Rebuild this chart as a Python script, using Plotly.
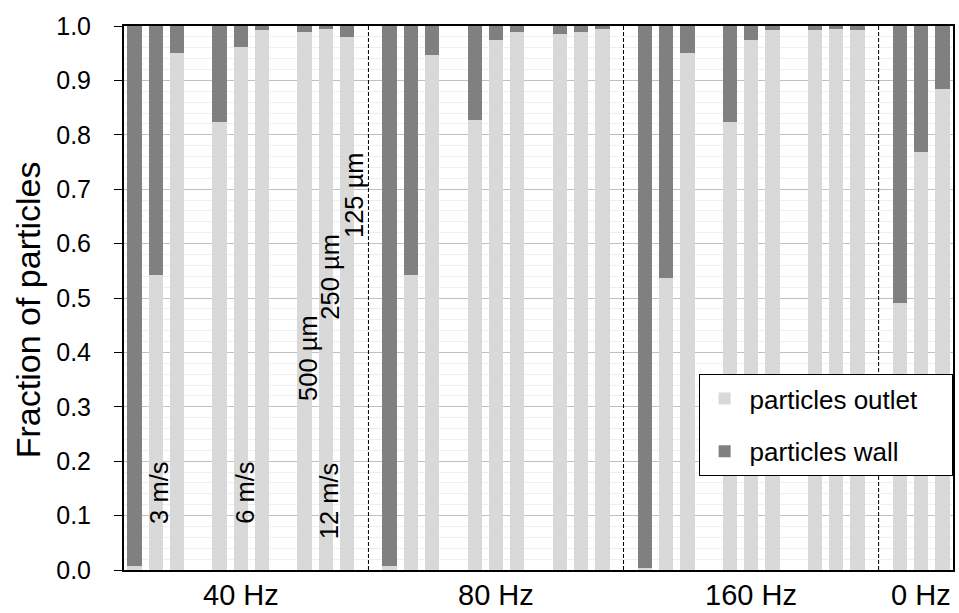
import plotly.graph_objects as go

# ---------------- data ----------------
freqs = ["40 Hz", "80 Hz", "160 Hz", "0 Hz"]
velocities = ["3 m/s", "6 m/s", "12 m/s"]
sizes = ["500 µm", "250 µm", "125 µm"]
series_names = ["particles outlet", "particles wall"]

# fraction of particles reaching the outlet (per freq: velocity-major, size-minor)
outlet_40 = [0.008, 0.542, 0.950, 0.824, 0.962, 0.993, 0.989, 0.995, 0.980]
outlet_80 = [0.007, 0.542, 0.947, 0.827, 0.974, 0.989, 0.986, 0.989, 0.994]
outlet_160 = [0.004, 0.536, 0.950, 0.824, 0.974, 0.992, 0.992, 0.995, 0.992]
outlet_0 = [0.490, 0.769, 0.885]
outlet_by_freq = {"40 Hz": outlet_40, "80 Hz": outlet_80, "160 Hz": outlet_160, "0 Hz": outlet_0}

# ---------------- build category slots ----------------
cats, outlet, wall = [], [], []
dividers = []
group_members = {f: [] for f in freqs}
gap_n = 0
for fi, f in enumerate(freqs):
    vals = outlet_by_freq[f]
    if f == "0 Hz":
        for si, s in enumerate(sizes):
            name = f"{f} | {s}"
            group_members[f].append(len(cats))
            cats.append(name)
            outlet.append(vals[si])
            wall.append(round(1 - vals[si], 4))
        continue
    for vi, v in enumerate(velocities):
        for si, s in enumerate(sizes):
            name = f"{f} | {v} | {s}"
            group_members[f].append(len(cats))
            cats.append(name)
            val = vals[vi * 3 + si]
            outlet.append(val)
            wall.append(round(1 - val, 4))
        gap_n += 1
        gname = "gap" + str(gap_n)
        if vi == len(velocities) - 1:
            dividers.append(len(cats))
        cats.append(gname)
        outlet.append(None)
        wall.append(None)

LIGHT = "#d9d9d9"
DARK = "#808080"
FONT = "Liberation Sans, Arial, sans-serif"
PAD = "\u00a0" * 4  # right padding inside the legend box

fig = go.Figure()
fig.add_trace(go.Bar(x=cats, y=outlet, name=series_names[0] + PAD, marker_color=LIGHT,
                     marker_line_width=0, legendgroup="a"))
fig.add_trace(go.Bar(x=cats, y=wall, name=series_names[1] + PAD, marker_color=DARK,
                     marker_line_width=0, legendgroup="b"))

shapes = []
for d in dividers:
    shapes.append(dict(type="line", xref="x", yref="y", x0=d, x1=d, y0=0, y1=1,
                       line=dict(color="black", width=1, dash="4px,2px")))

H = 613
PT, PB = 26, 570  # plot top / bottom in px


def ypaper(px):
    return (PB - px) / (PB - PT)


annotations = []
for f in freqs:
    idx = group_members[f]
    cx = sum(idx) / len(idx)
    annotations.append(dict(x=cx, y=ypaper(612.5), xref="x", yref="paper", text=f,
                            showarrow=False, font=dict(size=29, color="black", family=FONT),
                            xanchor="center", yanchor="bottom"))

# y-axis title
annotations.append(dict(x=-(124 - 28) / 831, y=ypaper(310), xref="paper", yref="paper",
                        text="Fraction of particles", textangle=-90, showarrow=False,
                        font=dict(size=34, color="black", family=FONT),
                        xanchor="center", yanchor="middle"))

# rotated data labels inside the 40 Hz group
lbl = [
    ("3 m/s", 1.14, 0.1415),
    ("6 m/s", 5.18, 0.1415),
    ("12 m/s", 9.16, 0.127),
    ("500 µm", 8.18, 0.389),
    ("250 µm", 9.21, 0.540),
    ("125 µm", 10.29, 0.690),
]
for t, x, y in lbl:
    annotations.append(dict(x=x, y=y, xref="x", yref="y", text=t, textangle=-90,
                            showarrow=False, font=dict(size=25.5, color="black", family=FONT),
                            xanchor="center", yanchor="middle"))

fig.update_layout(
    barmode="stack",
    bargap=0.32,
    width=959, height=H,
    margin=dict(l=124, r=4, t=PT, b=H - PB),
    paper_bgcolor="white", plot_bgcolor="white",
    font=dict(family=FONT, size=25, color="black"),
    shapes=shapes,
    annotations=annotations,
    legend=dict(x=(700 - 124) / 831, y=ypaper(374), xanchor="left", yanchor="top",
                bgcolor="white", bordercolor="black", borderwidth=1,
                font=dict(size=26, color="black", family=FONT),
                traceorder="grouped", tracegroupgap=16, itemwidth=40),
    showlegend=True,
)
fig.update_xaxes(type="category", categoryorder="array", categoryarray=cats,
                 range=[-0.5, len(cats) - 0.5], showticklabels=False, ticks="",
                 showgrid=False, showline=True, linecolor="black", linewidth=2, mirror=True)
fig.update_yaxes(range=[0, 1], dtick=0.1, tickformat=".1f", showgrid=True,
                 gridcolor="#c0c0c0", gridwidth=1,
                 minor=dict(dtick=0.02, showgrid=True, gridcolor="#efefef", gridwidth=1),
                 showline=True, linecolor="black", linewidth=2, mirror=True,
                 ticks="outside", ticklen=8, tickcolor="black", tickwidth=1,
                 ticklabelstandoff=18,
                 zeroline=False, tickfont=dict(size=25, family=FONT))

fig.write_html("out.html", config={"displayModeBar": False},
               post_script="document.body.style.margin='0';document.body.style.overflow='hidden';")
